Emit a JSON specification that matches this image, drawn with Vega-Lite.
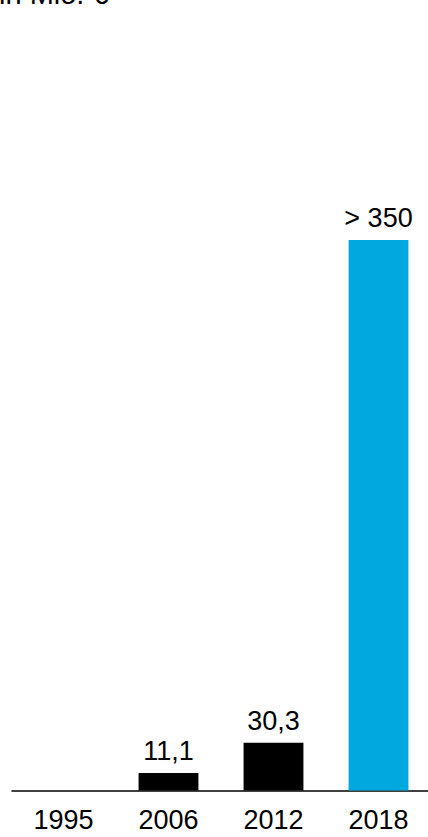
{
  "$schema": "https://vega.github.io/schema/vega-lite/v6.json",
  "autosize": "none",
  "width": 420,
  "height": 760.5,
  "padding": {"top": 30, "left": 11, "right": 0, "bottom": 46.5},
  "background": "white",
  "title": {"text": "in Mio. €", "anchor": "start", "frame": "group", "dx": -12, "offset": -3, "fontSize": 29, "font": "Liberation Sans", "fontWeight": "normal", "color": "#000000", "baseline": "alphabetic"},
  "data": {"values": [
    {"year": "1995", "value": 0, "label": ""},
    {"year": "2006", "value": 11.1, "label": "11,1"},
    {"year": "2012", "value": 30.3, "label": "30,3"},
    {"year": "2018", "value": 350, "label": "> 350"}
  ]},
  "encoding": {
    "x": {"field": "year", "type": "ordinal", "sort": null,
      "scale": {"paddingInner": 0.43, "paddingOuter": 0.215},
      "axis": {"title": null, "ticks": false, "labelAngle": 0, "labelFont": "Liberation Sans", "labelFontSize": 27, "labelColor": "#000000", "labelPadding": 17, "domainColor": "#000000", "domainWidth": 1.5, "grid": false}},
    "y": {"field": "value", "type": "quantitative", "scale": {"domain": [0, 483.5]}, "axis": null}
  },
  "layer": [
    {"mark": {"type": "bar"},
     "encoding": {"color": {"condition": {"test": "datum.year === '2018'", "value": "#00A8E0"}, "value": "#000000"}}},
    {"mark": {"type": "text", "baseline": "alphabetic", "dy": -13, "font": "Liberation Sans", "fontSize": 27, "color": "#000000"},
     "encoding": {"text": {"field": "label"}}}
  ],
  "config": {"view": {"stroke": null}}
}
